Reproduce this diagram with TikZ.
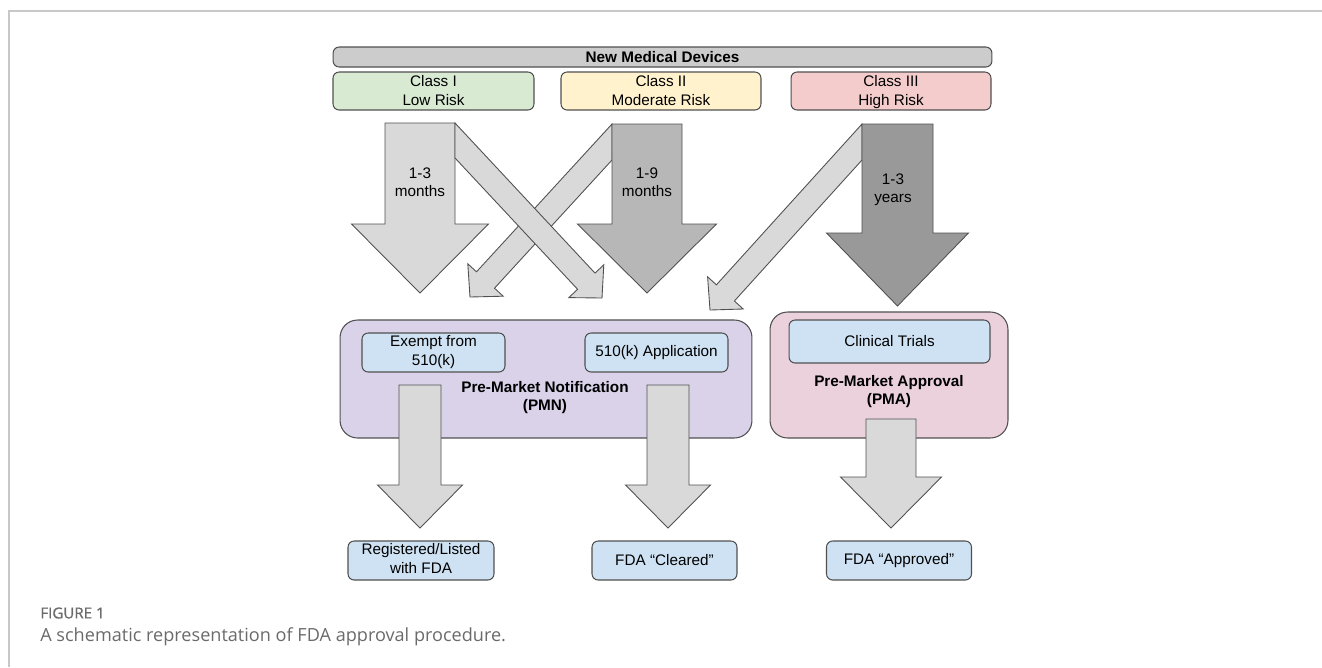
\documentclass[tikz,border=0pt]{standalone}
\usepackage{fontspec}
\setmainfont{Liberation Sans}
\newfontfamily\capfont{Open Sans}
\newfontfamily\figfont[FakeBold=0.8]{Open Sans}

\definecolor{lineclr}{HTML}{505050}
\definecolor{barclr}{HTML}{CCCCCC}
\definecolor{lowclr}{HTML}{D9EAD3}
\definecolor{modclr}{HTML}{FFF2CC}
\definecolor{highclr}{HTML}{F4CCCC}
\definecolor{stepclr}{HTML}{CFE2F3}
\definecolor{pmnclr}{HTML}{D9D2E9}
\definecolor{pmaclr}{HTML}{EAD1DC}
\definecolor{lightarr}{HTML}{D9D9D9}
\definecolor{midarr}{HTML}{B7B7B7}
\definecolor{darkarr}{HTML}{999999}
\definecolor{frameclr}{HTML}{C8C8C8}
\definecolor{capclr}{HTML}{6A6A6A}

% big block arrow pointing down: fill, x, top, head, tip, half shaft, half head
\newcommand{\bigdown}[7]{%
  \filldraw[blockarr, fill=#1] ({#2-#6},#3) -- ({#2+#6},#3) -- ({#2+#6},#4) -- ({#2+#7},#4)
    -- (#2,#5) -- ({#2-#7},#4) -- ({#2-#6},#4) -- cycle;}

\begin{document}
\begin{tikzpicture}[x=0.02cm, y=-0.02cm]
\tikzset{
  box/.style={draw=lineclr, line width=0.6pt, rounded corners=3.5pt, align=center,
    inner sep=0pt, font=\fontsize{8.7}{10.5}\selectfont},
  bigbox/.style={box, rounded corners=10pt},
  blockarr/.style={draw=lineclr, line width=0.5pt, line join=miter},
  lbl/.style={align=center, inner sep=0pt, font=\fontsize{8.7}{10.5}\selectfont},
}
\useasboundingbox (0,0) rectangle (1322,667);
\draw[frameclr, line width=0.9pt] (9,667) -- (9,11) -- (1322,11);

% top row
\node[box, fill=barclr, minimum width=13.18cm, minimum height=0.4cm, font=\fontsize{8.7}{10.5}\selectfont\bfseries] (devices) at (662.5,57) {New Medical Devices};
\node[box, fill=lowclr, minimum width=4.02cm, minimum height=0.76cm] (class1) at (433.5,91) {};
\node[box, fill=modclr, minimum width=4cm, minimum height=0.76cm] (class2) at (661,91) {};
\node[box, fill=highclr, minimum width=4cm, minimum height=0.76cm] (class3) at (891,91) {};
\node[lbl] (risk1) at (433.5,92.5) {Class I\strut\\Low Risk\strut};
\node[lbl] (risk2) at (661,92.5) {Class II\strut\\Moderate Risk\strut};
\node[lbl] (risk3) at (891,92.5) {Class III\strut\\High Risk\strut};

% arrows from the classes
\filldraw[blockarr, fill=lightarr] (612,124) -- (476.5,271.8) -- (467.8,263.8) -- (470,297)
  -- (503.2,296.2) -- (494.5,288.2) -- (612,160) -- cycle;
\bigdown{lightarr}{420}{123}{224}{293}{35}{68.5}
\filldraw[blockarr, fill=lightarr] (455,123) -- (595.0,273.1) -- (603.8,264.8) -- (602,298)
  -- (568.8,297.6) -- (577.6,289.3) -- (455,158) -- cycle;
\filldraw[blockarr, fill=lightarr] (862,124) -- (716.4,284.8) -- (707.6,276.8) -- (710,310)
  -- (743.2,309.0) -- (734.4,301.0) -- (862,160) -- cycle;
\bigdown{midarr}{647}{124}{224}{293}{35}{69.5}
\bigdown{darkarr}{897.5}{124}{233}{306}{35.5}{71}
\node[lbl] (t1) at (420,184) {1-3\strut\\months\strut};
\node[lbl] (t2) at (647,184) {1-9\strut\\months\strut};
\node[lbl] (t3) at (893,190) {1-3\strut\\years\strut};

% notification and approval
\node[bigbox, fill=pmnclr, minimum width=8.24cm, minimum height=2.36cm] (pmn) at (546,379) {};
\node[box, fill=stepclr, minimum width=2.86cm, minimum height=0.78cm] (exempt) at (433.5,352.5) {Exempt from\strut\\510(k)\strut};
\node[box, fill=stepclr, minimum width=2.86cm, minimum height=0.78cm] (apply) at (656.5,352.5) {510(k) Application};
\node[lbl, font=\fontsize{8.7}{10.5}\selectfont\bfseries] (pmnlbl) at (545,398) {Pre-Market Notification\strut\\(PMN)\strut};
\node[bigbox, fill=pmaclr, minimum width=4.76cm, minimum height=2.52cm] (pma) at (889,375) {};
\node[box, fill=stepclr, minimum width=4.02cm, minimum height=0.86cm] (trials) at (889.5,341.5) {Clinical Trials};
\node[lbl, font=\fontsize{8.7}{10.5}\selectfont\bfseries] (pmalbl) at (889,392) {Pre-Market Approval\strut\\(PMA)\strut};

% results
\bigdown{lightarr}{420}{385}{485}{528}{21}{42.5}
\bigdown{lightarr}{668}{385}{485}{528}{21}{42.5}
\bigdown{lightarr}{891}{419}{477}{528}{25}{50.5}
\node[box, fill=stepclr, minimum width=2.92cm, minimum height=0.78cm] (listed) at (421,560.5) {Registered/Listed\strut\\with FDA\strut};
\node[box, fill=stepclr, minimum width=2.9cm, minimum height=0.78cm] (cleared) at (664.5,560.5) {FDA “Cleared”};
\node[box, fill=stepclr, minimum width=2.9cm, minimum height=0.78cm] (approved) at (899,560.5) {FDA “Approved”};

% caption
\node[anchor=west, inner sep=0pt, text=capclr, font=\figfont\fontsize{8.6}{9}\selectfont] (fig) at (40,613) {FIGURE 1};
\node[anchor=west, inner sep=0pt, text=capclr, font=\capfont\fontsize{10.3}{12}\selectfont] (cap) at (40,637) {A schematic representation of FDA approval procedure.};
\end{tikzpicture}
\end{document}
